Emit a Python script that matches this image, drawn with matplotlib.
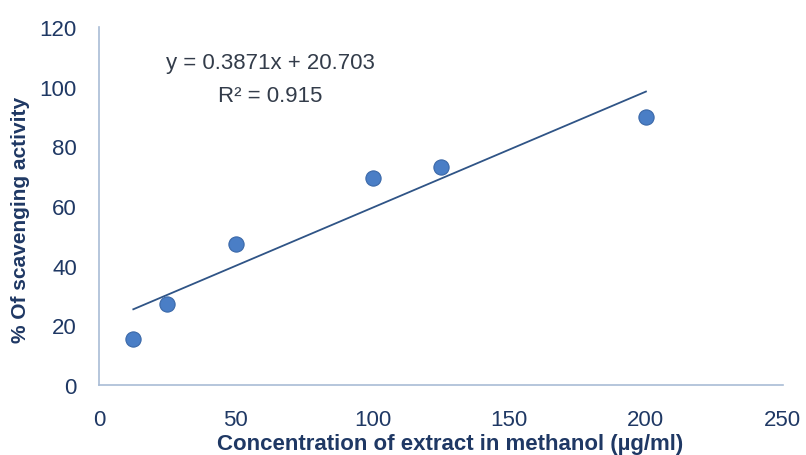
import numpy as np
import matplotlib
matplotlib.use("Agg")
import matplotlib.pyplot as plt
from matplotlib import font_manager

conc = [12.5, 25, 50, 100, 125, 200]
scav = [15.4, 27.2, 47.3, 69.5, 73.2, 90.0]
xticks = [0, 50, 100, 150, 200, 250]
yticks = [0, 20, 40, 60, 80, 100, 120]

names = {f.name for f in font_manager.fontManager.ttflist}
fam = 'Liberation Sans Narrow' if 'Liberation Sans Narrow' in names else 'Liberation Sans'
plt.rcParams['font.family'] = [fam, 'DejaVu Sans']

navy = '#1F3864'
fig = plt.figure(figsize=(8.06, 4.56), dpi=100)
ax = fig.add_axes([0.123, 0.1535, 0.848, 0.785])

slope, intercept = np.polyfit(conc, scav, 1)
xs = np.array([min(conc), max(conc)])
ax.plot(xs, slope * xs + intercept, color='#2F5486', lw=1.3, zorder=2)
ax.scatter(conc, scav, s=120, color='#4A7EC6', edgecolors='#3A68A8', linewidths=0.8, zorder=3)

ax.set_xlim(0, 250)
ax.set_ylim(0, 120)
ax.set_xticks(xticks)
ax.set_yticks(yticks)
for s in ['top', 'right']:
    ax.spines[s].set_visible(False)
for s in ['left', 'bottom']:
    ax.spines[s].set_color('#A9BCD6')
    ax.spines[s].set_linewidth(1.2)
ax.tick_params(length=0, labelsize=16, labelcolor=navy)
ax.tick_params(axis='y', pad=16)
ax.tick_params(axis='x', pad=17)

ax.set_xlabel('Concentration of extract in methanol (µg/ml)', fontsize=16,
              fontweight='bold', color=navy, labelpad=3)
ax.xaxis.set_label_coords(0.513, -0.135)
ax.set_ylabel('% Of scavenging activity', fontsize=15, fontweight='bold',
              color=navy)
ax.yaxis.set_label_coords(-0.101, 0.464)

ax.text(0.25, 0.902, 'y = 0.3871x + 20.703', transform=ax.transAxes,
        ha='center', va='center', fontsize=16, color='#333C4A')
ax.text(0.25, 0.81, 'R² = 0.915', transform=ax.transAxes,
        ha='center', va='center', fontsize=16, color='#333C4A')

fig.savefig('out.png', dpi=100)
